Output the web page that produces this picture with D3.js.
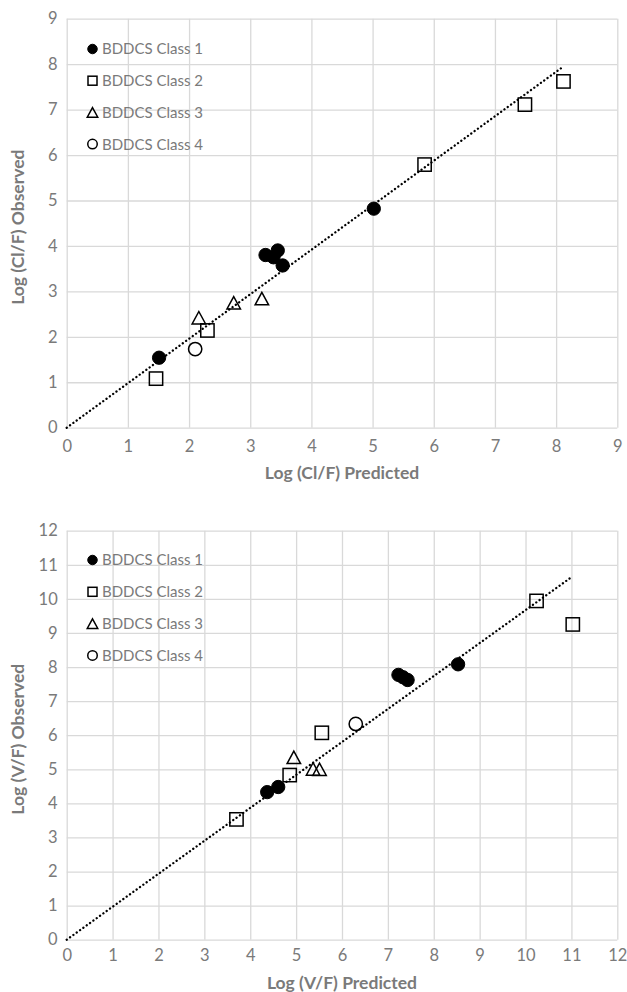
<!DOCTYPE html>
<html>
<head>
<meta charset="utf-8">
<script src="https://cdn.jsdelivr.net/npm/d3@7"></script>
<style>
  html, body { margin: 0; padding: 0; background: #fff; }
  svg { display: block; }
  text { font-family: Lato, "Open Sans", sans-serif; }
</style>
</head>
<body>
<svg id="chart" width="627" height="992"></svg>
<script>
// ---------- DATA ----------
const seriesNames = ["BDDCS Class 1", "BDDCS Class 2", "BDDCS Class 3", "BDDCS Class 4"];

// Chart 1: Log (Cl/F)
const clClass1Pred = [1.51, 3.25, 3.38, 3.45, 3.53, 5.02];
const clClass1Obs  = [1.54, 3.80, 3.75, 3.90, 3.57, 4.82];
const clClass2Pred = [1.46, 2.30, 5.85, 7.49, 8.12];
const clClass2Obs  = [1.08, 2.14, 5.79, 7.11, 7.62];
const clClass3Pred = [2.16, 2.73, 3.19];
const clClass3Obs  = [2.42, 2.75, 2.84];
const clClass4Pred = [2.10];
const clClass4Obs  = [1.73];
const clTrendSlope = 0.979;
const clTicks = [0, 1, 2, 3, 4, 5, 6, 7, 8, 9];

// Chart 2: Log (V/F)
const vClass1Pred = [4.37, 4.61, 7.23, 7.33, 7.43, 8.53];
const vClass1Obs  = [4.33, 4.48, 7.77, 7.70, 7.62, 8.08];
const vClass2Pred = [3.70, 4.86, 5.56, 10.24, 11.03];
const vClass2Obs  = [3.53, 4.83, 6.07, 9.94, 9.25];
const vClass3Pred = [4.95, 5.37, 5.51];
const vClass3Obs  = [5.35, 5.01, 5.00];
const vClass4Pred = [6.30];
const vClass4Obs  = [6.33];
const vTrendSlope = 0.967;
const vTicks = [0, 1, 2, 3, 4, 5, 6, 7, 8, 9, 10, 11, 12];

// ---------- DRAW ----------
const svg = d3.select("#chart");
const gridColor = "#d9d9d9";
const textColor = "#7a7a7a";

function marker(g, type, x, y, s) {
  if (type === 0) {
    g.append("circle").attr("cx", x).attr("cy", y).attr("r", s / 2)
      .attr("fill", "#000").attr("stroke", "#000").attr("stroke-width", 1);
  } else if (type === 1) {
    g.append("rect").attr("x", x - s / 2).attr("y", y - s / 2)
      .attr("width", s).attr("height", s)
      .attr("fill", "none").attr("stroke", "#000").attr("stroke-width", 1.5);
  } else if (type === 2) {
    const h = s * 0.92;
    g.append("path")
      .attr("d", `M${x},${y - h / 2}L${x + s / 2},${y + h / 2}L${x - s / 2},${y + h / 2}Z`)
      .attr("fill", "none").attr("stroke", "#000").attr("stroke-width", 1.5)
      .attr("stroke-linejoin", "miter");
  } else {
    g.append("circle").attr("cx", x).attr("cy", y).attr("r", s / 2)
      .attr("fill", "none").attr("stroke", "#000").attr("stroke-width", 1.5);
  }
}

function drawChart(cfg) {
  const { left, right, top, bottom, ticks, series, slope, xTitle, yTitle, xLabelDy, yTitleX } = cfg;
  const maxV = ticks[ticks.length - 1];
  const x = d3.scaleLinear().domain([0, maxV]).range([left, right]);
  const y = d3.scaleLinear().domain([0, maxV]).range([bottom, top]);
  const g = svg.append("g");

  // gridlines
  const gx = g.append("g").attr("transform", `translate(0,${bottom})`)
    .call(d3.axisBottom(x).tickValues(ticks).tickSize(-(bottom - top)).tickFormat(d3.format("d")).tickPadding(0));
  gx.select(".domain").remove();
  gx.selectAll("line").attr("stroke", gridColor).attr("stroke-width", 1.3);
  gx.selectAll("text").attr("fill", textColor).attr("font-size", 16.5)
    .attr("dy", null).attr("y", xLabelDy);

  const gy = g.append("g").attr("transform", `translate(${left},0)`)
    .call(d3.axisLeft(y).tickValues(ticks).tickSize(-(right - left)).tickFormat(d3.format("d")).tickPadding(9));
  gy.select(".domain").remove();
  gy.selectAll("line").attr("stroke", gridColor).attr("stroke-width", 1.3);
  gy.selectAll("text").attr("fill", textColor).attr("font-size", 16.5);

  // trendline
  const xMax = d3.max(series.flatMap(s => s.pred));
  const trend = [0, xMax];
  g.append("path")
    .attr("d", d3.line().x(d => x(d)).y(d => y(d * slope))(trend))
    .attr("fill", "none").attr("stroke", "#000").attr("stroke-width", 2.3)
    .attr("stroke-linecap", "round").attr("stroke-dasharray", "0.1,4");

  // points
  const pts = g.append("g");
  series.forEach((s, si) => {
    s.pred.forEach((p, i) => {
      marker(pts, si, x(p), y(s.obs[i]), si === 2 ? 13.5 : 13.3);
    });
  });

  // legend
  const lg = g.append("g");
  seriesNames.forEach((name, i) => {
    const ly = cfg.legendTop + i * cfg.legendStep;
    marker(lg, i, 92.5, ly, i === 2 ? 10.5 : (i === 1 ? 9 : 9.5));
    lg.append("text").attr("x", 102).attr("y", ly).attr("dy", "0.36em")
      .attr("fill", textColor).attr("font-size", 15).text(name);
  });

  // axis titles
  g.append("text").attr("x", (left + right) / 2).attr("y", cfg.xTitleY)
    .attr("text-anchor", "middle").attr("font-weight", "bold").attr("font-size", 17.5)
    .attr("fill", textColor).text(xTitle);
  g.append("text")
    .attr("transform", `translate(${yTitleX},${(top + bottom) / 2 + 4}) rotate(-90)`)
    .attr("text-anchor", "middle").attr("font-weight", "bold").attr("font-size", 17.5)
    .attr("fill", textColor).text(yTitle);
}

drawChart({
  left: 66.7, right: 617.3, top: 18.7, bottom: 427.7,
  ticks: clTicks, slope: clTrendSlope,
  series: [
    { pred: clClass1Pred, obs: clClass1Obs },
    { pred: clClass2Pred, obs: clClass2Obs },
    { pred: clClass3Pred, obs: clClass3Obs },
    { pred: clClass4Pred, obs: clClass4Obs }
  ],
  xTitle: "Log (Cl/F) Predicted", yTitle: "Log (Cl/F) Observed",
  xLabelDy: 24, xTitleY: 479, yTitleX: 24,
  legendTop: 49, legendStep: 31.7
});

drawChart({
  left: 66.7, right: 617.3, top: 530.7, bottom: 939.7,
  ticks: vTicks, slope: vTrendSlope,
  series: [
    { pred: vClass1Pred, obs: vClass1Obs },
    { pred: vClass2Pred, obs: vClass2Obs },
    { pred: vClass3Pred, obs: vClass3Obs },
    { pred: vClass4Pred, obs: vClass4Obs }
  ],
  xTitle: "Log (V/F) Predicted", yTitle: "Log (V/F) Observed",
  xLabelDy: 21, xTitleY: 989, yTitleX: 24,
  legendTop: 560, legendStep: 31.8
});
</script>
</body>
</html>
